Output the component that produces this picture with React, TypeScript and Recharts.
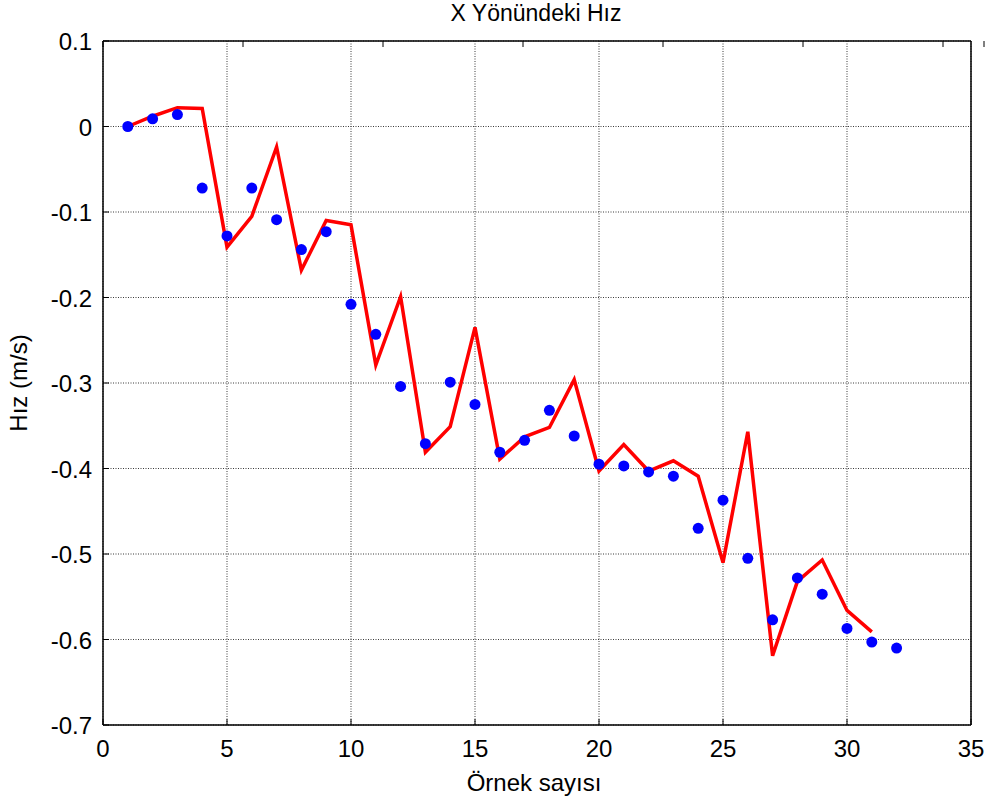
import { CartesianGrid, ComposedChart, Line, XAxis, YAxis } from 'recharts'

// sample index
const samples = [
  1, 2, 3, 4, 5, 6, 7, 8, 9, 10, 11, 12, 13, 14, 15, 16,
  17, 18, 19, 20, 21, 22, 23, 24, 25, 26, 27, 28, 29, 30, 31, 32,
]

// measured velocity (blue dots)
const measured = [
  0.0, 0.009, 0.014, -0.072, -0.128, -0.072, -0.109, -0.144, -0.123, -0.208, -0.243,
  -0.304, -0.371, -0.299, -0.325, -0.381, -0.367, -0.332, -0.362, -0.395, -0.397,
  -0.404, -0.409, -0.47, -0.437, -0.505, -0.577, -0.528, -0.547, -0.587, -0.603, -0.61,
]

// estimated velocity (red line), one sample shorter
const estimated = [
  0.0, 0.012, 0.022, 0.021, -0.141, -0.105, -0.024, -0.168, -0.11, -0.115, -0.279,
  -0.199, -0.381, -0.351, -0.235, -0.389, -0.363, -0.352, -0.296, -0.403, -0.372,
  -0.403, -0.391, -0.409, -0.51, -0.357, -0.619, -0.532, -0.507, -0.566, -0.591,
]

const xTicks = [0, 5, 10, 15, 20, 25, 30, 35]
const yTicks = [0.1, 0, -0.1, -0.2, -0.3, -0.4, -0.5, -0.6, -0.7]

const rows = samples.map((n, i) => ({
  n,
  measured: measured[i],
  estimated: i < estimated.length ? estimated[i] : null,
}))

const W = 992
const H = 807
const FONT = "'Liberation Sans', Arial, sans-serif"
const TICK_LEN = 6

const fmtY = (v: number) => (Math.abs(v) < 1e-9 ? '0' : String(Number(v.toFixed(1))))

const BottomTick = ({ x, y, payload }: any) => (
  <g>
    <line x1={x} x2={x} y1={y} y2={y - TICK_LEN} stroke='#000' />
    <text x={x} y={y + 32} textAnchor='middle' fontSize={24} fontFamily={FONT} fill='#000'>
      {payload.value}
    </text>
  </g>
)

const TopTick = ({ x, y }: any) => (
  <line x1={x} x2={x} y1={y} y2={y + TICK_LEN} stroke='#000' />
)

const LeftTick = ({ x, y, payload }: any) => (
  <g>
    <line x1={x} x2={x + TICK_LEN} y1={y} y2={y} stroke='#000' />
    <text x={x - 11} y={y + 9} textAnchor='end' fontSize={24} fontFamily={FONT} fill='#000'>
      {fmtY(payload.value)}
    </text>
  </g>
)

export default function App() {
  const axisLine = { stroke: '#000', strokeWidth: 1.5 }
  return (
    <div style={{ position: 'absolute', left: 0, top: 0, width: W, height: H, background: '#fff' }}>
      <ComposedChart width={W} height={H} data={rows} margin={{ top: 0, right: 0, bottom: 0, left: 0 }}>
        <CartesianGrid stroke='#3a3a3a' strokeDasharray='1 1.5' strokeWidth={1} />
        <XAxis
          dataKey='n'
          type='number'
          domain={[0, 35]}
          ticks={xTicks}
          allowDataOverflow
          height={82}
          tickSize={0}
          tickMargin={0}
          tickLine={false}
          axisLine={axisLine}
          tick={<BottomTick />}
        />
        <XAxis
          xAxisId='top'
          orientation='top'
          type='number'
          domain={[0, 35]}
          ticks={xTicks}
          allowDataOverflow
          height={41}
          tickSize={0}
          tickMargin={0}
          tickLine={false}
          axisLine={axisLine}
          tick={<TopTick />}
        />
        <YAxis
          type='number'
          domain={[-0.7, 0.1]}
          ticks={yTicks}
          allowDataOverflow
          width={103}
          tickSize={0}
          tickMargin={0}
          tickLine={false}
          axisLine={axisLine}
          tick={<LeftTick />}
        />
        {/* right edge of the box; its ticks would sit on the grid lines anyway */}
        <YAxis
          yAxisId='right'
          orientation='right'
          type='number'
          domain={[-0.7, 0.1]}
          ticks={yTicks}
          allowDataOverflow
          width={21}
          tickLine={false}
          axisLine={axisLine}
          tick={false}
        />
        <Line
          dataKey='measured'
          stroke='none'
          strokeWidth={0}
          dot={{ r: 5.5, fill: '#0000ff', stroke: 'none' }}
          activeDot={false}
          isAnimationActive={false}
        />
        <Line
          dataKey='estimated'
          stroke='#ff0000'
          strokeWidth={3.5}
          strokeLinejoin='miter'
          dot={false}
          activeDot={false}
          isAnimationActive={false}
        />
      </ComposedChart>
      {/* title and axis captions */}
      <svg
        width={W}
        height={H}
        style={{ position: 'absolute', left: 0, top: 0, pointerEvents: 'none' }}
      >
        <text x={536} y={21} textAnchor='middle' fontSize={23} fontFamily={FONT} fill='#000'>
          X Yönündeki Hız
        </text>
        <text x={534} y={791} textAnchor='middle' fontSize={24} fontFamily={FONT} fill='#000'>
          Örnek sayısı
        </text>
        <text
          x={27}
          y={383}
          textAnchor='middle'
          fontSize={24}
          fontFamily={FONT}
          fill='#000'
          transform='rotate(-90 27 383)'
        >
          Hız (m/s)
        </text>
      </svg>
    </div>
  )
}
